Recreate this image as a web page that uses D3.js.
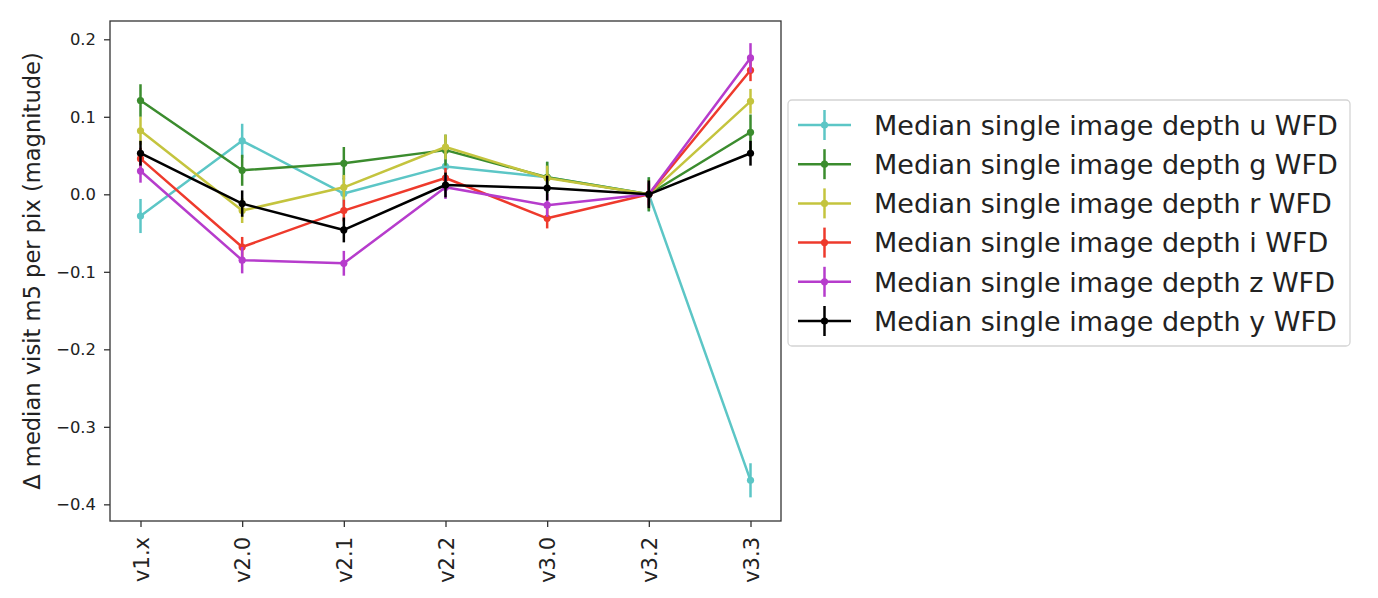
<!DOCTYPE html>
<html>
<head>
<meta charset="utf-8">
<script src="https://cdn.jsdelivr.net/npm/d3@7"></script>
<style>
  html, body { margin: 0; padding: 0; background: #fff; }
  svg { display: block; font-family: "DejaVu Sans", sans-serif; }
</style>
</head>
<body>
<svg id="chart" width="1378" height="598"></svg>
<script>
// ---- data ----
const categories = ["v1.x", "v2.0", "v2.1", "v2.2", "v3.0", "v3.2", "v3.3"];
const yTicks = [-0.4, -0.3, -0.2, -0.1, 0.0, 0.1, 0.2];

const seriesNames = [
  "Median single image depth u WFD",
  "Median single image depth g WFD",
  "Median single image depth r WFD",
  "Median single image depth i WFD",
  "Median single image depth z WFD",
  "Median single image depth y WFD"
];
const uValues = [-0.028, 0.069, 0.001, 0.036, 0.022, 0.0, -0.369];
const uErrors = [0.022, 0.022, 0.020, 0.020, 0.020, 0.022, 0.022];
const gValues = [0.121, 0.031, 0.040, 0.057, 0.022, 0.0, 0.080];
const gErrors = [0.021, 0.020, 0.021, 0.020, 0.020, 0.022, 0.023];
const rValues = [0.082, -0.021, 0.009, 0.061, 0.021, 0.0, 0.120];
const rErrors = [0.018, 0.016, 0.016, 0.016, 0.016, 0.018, 0.016];
const iValues = [0.046, -0.068, -0.021, 0.021, -0.031, 0.0, 0.160];
const iErrors = [0.014, 0.013, 0.014, 0.013, 0.013, 0.014, 0.014];
const zValues = [0.030, -0.085, -0.089, 0.009, -0.014, 0.0, 0.176];
const zErrors = [0.015, 0.017, 0.016, 0.015, 0.015, 0.016, 0.019];
const yValues = [0.053, -0.012, -0.046, 0.012, 0.008, 0.0, 0.053];
const yErrors = [0.016, 0.017, 0.016, 0.016, 0.016, 0.018, 0.016];

const seriesValues = [uValues, gValues, rValues, iValues, zValues, yValues];
const seriesErrors = [uErrors, gErrors, rErrors, iErrors, zErrors, yErrors];
const seriesColors = ["#5cc6c6", "#3b8c2e", "#c4c43e", "#ee3a2c", "#b63ccc", "#000000"];

// ---- layout ----
const FONT = "'DejaVu Sans', sans-serif";
const plot = { left: 110, right: 781, top: 21, bottom: 521 };
const svg = d3.select("#chart");

const x = d3.scaleLinear().domain([-0.3, categories.length - 1 + 0.3]).range([plot.left, plot.right]);
const y = d3.scaleLinear().domain([-0.4215, 0.2236]).range([plot.bottom, plot.top]);

const textColor = "#222";

// axes
const yAxis = d3.axisLeft(y).tickValues(yTicks).tickFormat(d3.format(".1f")).tickSize(6).tickPadding(8);
const gy = svg.append("g").attr("transform", `translate(${plot.left},0)`).call(yAxis)
  .attr("font-family", FONT);
gy.select(".domain").remove();
gy.selectAll(".tick line").attr("stroke", "#333").attr("stroke-width", 1.3);
gy.selectAll(".tick text").attr("fill", textColor).style("font-family", FONT).style("font-size", "16.4px");

const xAxis = d3.axisBottom(x).tickValues(d3.range(categories.length)).tickFormat(i => categories[i]).tickSize(6);
const gx = svg.append("g").attr("transform", `translate(0,${plot.bottom})`).call(xAxis)
  .attr("font-family", FONT);
gx.select(".domain").remove();
gx.selectAll(".tick line").attr("stroke", "#333").attr("stroke-width", 1.3);
gx.selectAll(".tick text")
  .attr("fill", textColor)
  .style("font-family", FONT)
  .style("font-size", "21px")
  .attr("text-anchor", "end")
  .attr("transform", "translate(0,16) rotate(-90)")
  .attr("x", 0).attr("y", 0).attr("dy", "0.36em");

// frame
svg.append("rect")
  .attr("x", plot.left).attr("y", plot.top)
  .attr("width", plot.right - plot.left).attr("height", plot.bottom - plot.top)
  .attr("fill", "none").attr("stroke", "#333").attr("stroke-width", 1.3);

// y label
svg.append("text")
  .attr("transform", `translate(40,${(plot.top + plot.bottom) / 2}) rotate(-90)`)
  .attr("text-anchor", "middle")
  .attr("fill", textColor)
  .style("font-family", FONT)
  .style("font-size", "22.6px")
  .text("Δ median visit m5 per pix (magnitude)");

// series
const line = d3.line().x((d, i) => x(i)).y(d => y(d));
const plotG = svg.append("g");
seriesValues.forEach((vals, s) => {
  const col = seriesColors[s];
  const errs = seriesErrors[s];
  const g = plotG.append("g");
  g.append("path").datum(vals)
    .attr("d", line).attr("fill", "none")
    .attr("stroke", col).attr("stroke-width", 2.5).attr("stroke-linejoin", "round");
  g.selectAll("line.err").data(vals).enter().append("line")
    .attr("x1", (d, i) => x(i)).attr("x2", (d, i) => x(i))
    .attr("y1", (d, i) => y(d - errs[i])).attr("y2", (d, i) => y(d + errs[i]))
    .attr("stroke", col).attr("stroke-width", 2.5);
  g.selectAll("circle").data(vals).enter().append("circle")
    .attr("cx", (d, i) => x(i)).attr("cy", d => y(d)).attr("r", 3.6)
    .attr("fill", col);
});

// legend
const leg = { x: 788, y: 100, w: 562, h: 246 };
const lg = svg.append("g");
lg.append("rect")
  .attr("x", leg.x).attr("y", leg.y).attr("width", leg.w).attr("height", leg.h)
  .attr("rx", 4).attr("ry", 4)
  .attr("fill", "#fff").attr("stroke", "#d4d4d4").attr("stroke-width", 1.3);
seriesNames.forEach((name, s) => {
  const cy = leg.y + 25 + s * 39.2;
  const col = seriesColors[s];
  lg.append("line").attr("x1", 798).attr("x2", 851).attr("y1", cy).attr("y2", cy)
    .attr("stroke", col).attr("stroke-width", 2.5);
  lg.append("line").attr("x1", 824.5).attr("x2", 824.5).attr("y1", cy - 15).attr("y2", cy + 15)
    .attr("stroke", col).attr("stroke-width", 2.5);
  lg.append("circle").attr("cx", 824.5).attr("cy", cy).attr("r", 3.6).attr("fill", col);
  lg.append("text").attr("x", 874).attr("y", cy).attr("dy", "0.36em")
    .attr("fill", textColor).style("font-family", FONT).style("font-size", "27px").text(name);
});
</script>
</body>
</html>
